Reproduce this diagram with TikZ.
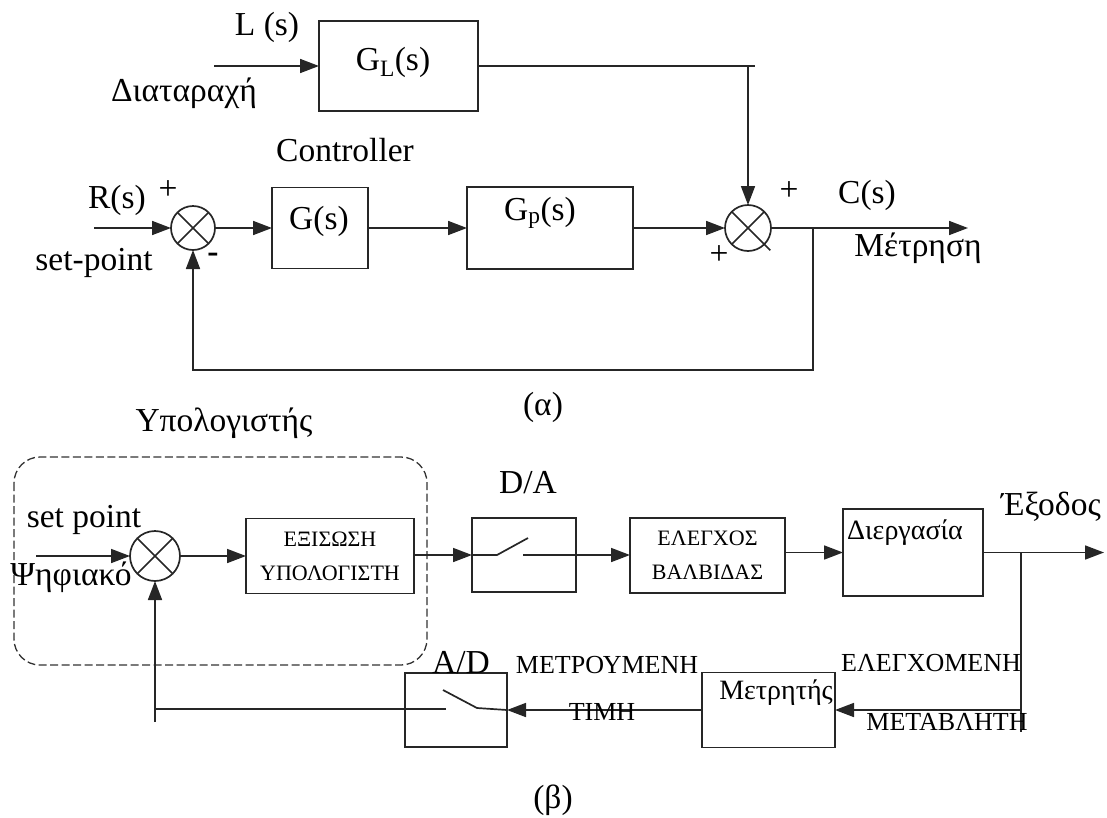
\documentclass[tikz,border=0pt]{standalone}
\usepackage{fontspec}
\setmainfont{Liberation Serif}
\usetikzlibrary{arrows.meta,calc}
\tikzset{
  ln/.style={line width=1.7pt, draw=black!85},
  arr/.style={ln, -{Triangle[length=19pt,width=14pt]}},
  blk/.style={ln, rectangle, inner sep=0pt, outer sep=0pt},
  sumj/.style={ln, circle, inner sep=0pt, outer sep=0pt},
  big/.style={font=\fontsize{33.5}{38}\selectfont, inner sep=0pt},
  mid/.style={font=\fontsize{26}{30}\selectfont, inner sep=0pt},
  midb/.style={font=\fontsize{28}{32}\selectfont, inner sep=0pt},
  sml/.style={font=\fontsize{22}{34}\selectfont, align=center},
  dashbox/.style={line width=1.3pt, draw=black!80, dash pattern=on 8pt off 3.5pt, rounded corners=26pt}
}
\begin{document}
\begin{tikzpicture}[x=1pt,y=-1pt]
\useasboundingbox (0,0) rectangle (1107,817);
% ---------------- (a) ----------------
\node[blk, minimum width=159pt, minimum height=90pt] (GL) at (398.5,66) {};
\node[big] (GLt) at (393,62) {G\textsubscript{L}(s)};
\coordinate (Lin) at (214,66);
\draw[arr] (Lin) -- (GL.west);
\node[big] (Ls) at (267,27) {L (s)};
\node[big] (dist) at (184,93) {Διαταραχή};

\node[sumj, minimum size=44pt] (J1) at (193,228) {};
\draw[ln] (J1.45) -- (J1.225) (J1.135) -- (J1.315);
\coordinate (Rin) at (94,228);
\draw[arr] (Rin) -- (J1.west);
\node[big] (Rs) at (117,200) {R(s)};
\node[big] (p1) at (168,190) {+};
\node[big] (sp) at (94,263) {set-point};
\node[big] (m1) at (213,258) {\textbf{-}};

\node[blk, minimum width=96pt, minimum height=81pt] (G) at (320,228) {};
\node[big] (Gt) at (319,221) {G(s)};
\node[blk, minimum width=166pt, minimum height=82pt] (Gp) at (550,228) {};
\node[big] (Gpt) at (540,213) {G\textsubscript{p}(s)};
\node[big] (ctrl) at (345,150) {Controller};
\draw[arr] (J1.east) -- (G.west);
\draw[arr] (G.east) -- (Gp.west);

\node[sumj, minimum size=46pt] (J2) at (748,228) {};
\draw[ln] (J2.45) -- (J2.225) (J2.135) -- ($(J2.315)+(6,6)$);
\draw[arr] (Gp.east) -- (J2.west);
\coordinate (c1) at (748,66);
\draw[ln] (GL.east) -- (c1) -- ++(7,0);
\draw[arr] (c1) -- (J2.north);
\node[big] (p2) at (789,191) {+};
\node[big] (p3) at (719,255) {+};
\coordinate (Cout) at (968,228);
\draw[arr] (J2.east) -- (Cout);
\node[big] (Cs) at (867,195) {C(s)};
\node[big] (meas) at (918,248) {Μέτρηση};
\coordinate (b1) at (813,228);
\coordinate (b2) at (813,370);
\coordinate (b3) at (193,370);
\draw[arr] (b1) -- (b2) -- (b3) -- (J1.south);
\node[big] (alpha) at (543,407) {(α)};

% ---------------- (b) ----------------
\node[big] (comp) at (224,423) {Υπολογιστής};
\draw[dashbox] (14,457) rectangle (427,665);
\node[big] (setp) at (84,520) {set point};
\node[big] (dig) at (71,577) {Ψηφιακό};
\node[sumj, minimum size=50pt] (J3) at (155,556) {};
\draw[ln] (J3.45) -- (J3.225) (J3.135) -- (J3.315);
\coordinate (Sin) at (36,556);
\draw[arr] (Sin) -- (J3.west);

\node[blk, sml, minimum width=168pt, minimum height=75pt] (EQ) at (330,556) {ΕΞΙΣΩΣΗ\\ΥΠΟΛΟΓΙΣΤΗ};
\draw[arr] (J3.east) -- (EQ.west);

\node[blk, minimum width=104pt, minimum height=74pt] (DA) at (524,555) {};
\draw[arr] (EQ.east |- DA.west) -- (DA.west);
\coordinate (s1) at (497,555);
\coordinate (s2) at (528,538);
\coordinate (s3) at (523,555);
\draw[ln] (DA.west) -- (s1) -- (s2);
\node[big] (DAl) at (528,483) {D/A};

\node[blk, sml, minimum width=155pt, minimum height=75pt] (EV) at (707.5,555.5) {ΕΛΕΓΧΟΣ\\ΒΑΛΒΙΔΑΣ};
\draw[arr] (s3) -- (s3 -| EV.west);

\node[blk, minimum width=140pt, minimum height=87pt] (PR) at (913,552.5) {};
\node[midb] (PRt) at (905,533) {Διεργασία};
\draw[arr] (EV.east |- PR.west) -- (PR.west);
\coordinate (Yout) at (1104,552.5);
\draw[arr] (PR.east) -- (Yout);
\node[big] (exod) at (1051,507) {Έξοδος};

\coordinate (f1) at (1021,552.5);
\coordinate (f2) at (1021,732);
\coordinate (f3) at (1021,710);
\draw[ln] (f1) -- (f2);
\node[blk, minimum width=133pt, minimum height=75pt] (M) at (768.5,710) {};
\node[midb] (Mt) at (776,693) {Μετρητής};
\draw[arr] (f3) -- (M.east);
\node[mid] (cv1) at (931,663) {ΕΛΕΓΧΟΜΕΝΗ};
\node[mid] (cv2) at (947,722) {ΜΕΤΑΒΛΗΤΗ};

\node[blk, minimum width=102pt, minimum height=74pt] (AD) at (456,710) {};
\draw[arr] (M.west) -- (AD.east);
\coordinate (a1) at (477,708);
\coordinate (a2) at (443,690);
\coordinate (a3) at (446,709);
\coordinate (a4) at (155,709);
\coordinate (a5) at (155,722);
\draw[ln] (AD.east) -- (a1) -- (a2);
\draw[ln] (a3) -- (a4);
\draw[arr] (a5) -- (J3.south);
\node[big] (ADl) at (461,663) {A/D};
\node[mid] (mv1) at (607,665) {ΜΕΤΡΟΥΜΕΝΗ};
\node[mid] (mv2) at (602,712) {ΤΙΜΗ};
\node[big] (beta) at (553,800) {(β)};
\end{tikzpicture}
\end{document}
